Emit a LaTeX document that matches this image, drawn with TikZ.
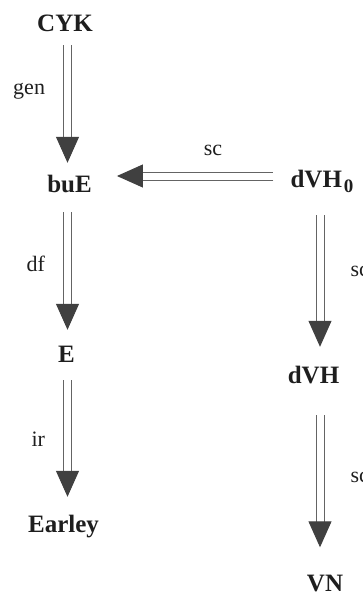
\documentclass[tikz,border=0pt]{standalone}
\usepackage{fontspec}
\setmainfont{Liberation Serif}
\usetikzlibrary{arrows.meta}

\definecolor{linegray}{RGB}{100,100,100}
\definecolor{headgray}{RGB}{64,64,64}
\definecolor{inkblack}{RGB}{30,30,30}

\tikzset{
	parser/.style={font=\fontsize{25}{25}\selectfont\bfseries, text=inkblack, inner sep=0pt, text height=17pt, text depth=0pt, anchor=base},
	lbl/.style={font=\fontsize{22}{22}\selectfont, text=inkblack, inner sep=0pt},
	refines/.style={draw=linegray, line width=1pt, double=white, double distance=7pt, -{Triangle[length=26pt,width=23pt,color=headgray,fill=headgray]}}
}

\begin{document}
\begin{tikzpicture}[x=1pt,y=-1pt]
	\useasboundingbox (0,0) rectangle (363,594);
	% the two columns of arrows and the row of the horizontal one
	\coordinate (leftaxis) at (67.5,0);
	\coordinate (rightaxis) at (320,0);
	\coordinate (scline) at (0,176);

	\node[parser] (cyk) at (65,32) {CYK};
	\node[parser] (bue) at (69.5,192) {buE};
	\node[parser] (e) at (66.5,362) {E};
	\node[parser] (earley) at (63.5,532) {Earley};
	\node[parser] (dvh0) at (322,187) {dVH\kern2pt\raisebox{-5pt}{\fontsize{19}{19}\selectfont 0}};
	\node[parser] (dvh) at (313.5,383) {dVH};
	\node[parser] (vn) at (325,591.5) {VN};

	\path[every edge/.style={refines}]
		(cyk.south -| leftaxis) edge[shorten <=13pt, shorten >=12pt] node[lbl, pos=0.44, anchor=base east, xshift=-22pt] {gen} (bue.north -| leftaxis)
		(bue.south -| leftaxis) edge[shorten <=20pt, shorten >=15pt] node[lbl, pos=0.52, anchor=base east, xshift=-22pt] {df} (e.north -| leftaxis)
		(e.south -| leftaxis) edge[shorten <=18pt, shorten >=18pt] node[lbl, pos=0.55, anchor=base east, xshift=-22pt] {ir} (earley.north -| leftaxis)
		(dvh0.west |- scline) edge[shorten <=17pt, shorten >=25pt] node[lbl, pos=0.39, anchor=base, yshift=21pt] {sc} (bue.east |- scline)
		(dvh0.south -| rightaxis) edge[shorten <=28pt, shorten >=19pt] node[lbl, pos=0.50, anchor=base west, xshift=30pt] {sc} (dvh.north -| rightaxis)
		(dvh.south -| rightaxis) edge[shorten <=32pt, shorten >=27pt] node[lbl, pos=0.52, anchor=base west, xshift=30pt] {sc} (vn.north -| rightaxis);
\end{tikzpicture}
\end{document}
